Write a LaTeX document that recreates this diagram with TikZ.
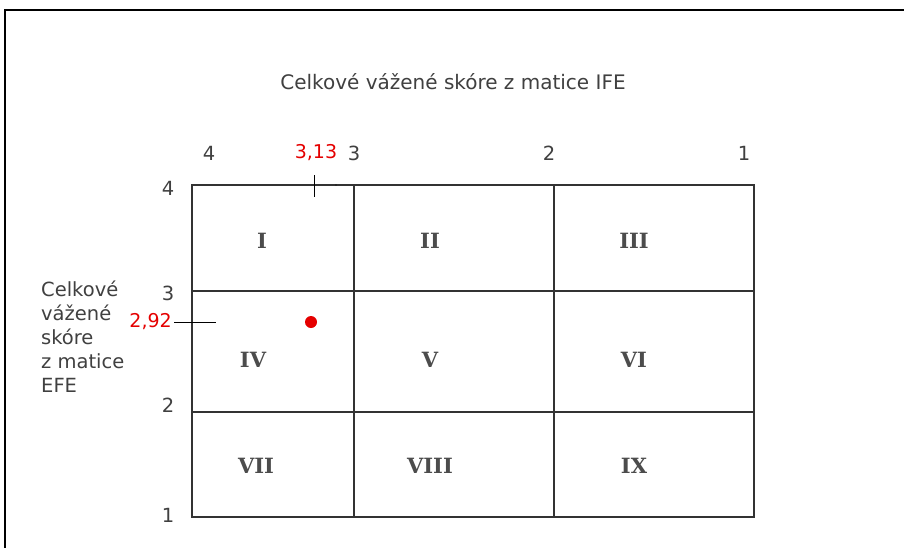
\documentclass[tikz,border=0pt]{standalone}
\usepackage{fontspec}
\setmainfont{DejaVu Sans}
\newfontfamily\romanfont{DejaVu Serif}
\begin{document}
\begin{tikzpicture}[x=1pt,y=-1pt,
  lbl/.style={font=\fontsize{19.5}{24}\selectfont, text=black!75, inner sep=0pt},
  redlbl/.style={font=\fontsize{19}{24}\selectfont, text=red!90!black, inner sep=0pt},
  quad/.style={font=\romanfont\bfseries\fontsize{21}{24}\selectfont, text=black!70, inner sep=0pt},
  gridline/.style={line width=1.2pt, draw=black!80},
  tick/.style={line width=1pt, draw=black}]
\useasboundingbox (0,0) rectangle (904,547);
\fill[white] (0,0) rectangle (904,547);
% outer frame
\draw[line width=1.6pt] (5,560) -- (5,10) -- (910,10);
% title
\node[lbl, font=\fontsize{20}{24}\selectfont] (title) at (453,82) {Celkové vážené skóre z matice IFE};
% grid
\draw[gridline] (192,185) rectangle (754,517);
\draw[gridline] (354,185) -- (354,517);
\draw[gridline] (554,185) -- (554,517);
\draw[gridline] (192,291) -- (754,291);
\draw[gridline] (192,412) -- (754,412);
% top scale
\node[lbl] (t4) at (209,153) {4};
\node[lbl] (t3) at (354,153) {3};
\node[lbl] (t2) at (549,153) {2};
\node[lbl] (t1) at (744,153) {1};
\node[redlbl] (ifeval) at (316,153) {3,13};
\coordinate (ifetop) at (314,175);
\coordinate (ifebot) at (314,197);
\draw[tick] (ifetop) -- (ifebot);
\fill (336,185) circle (0.7);
% left scale
\node[lbl] (l4) at (168,188) {4};
\node[lbl] (l3) at (168,293) {3};
\node[lbl] (l2) at (168,405) {2};
\node[lbl] (l1) at (168,515) {1};
\node[redlbl, anchor=east] (efeval) at (172,322) {2,92};
\coordinate (efeend) at (216,322);
\draw[tick] (efeval.east) ++(2,0) -- (efeend);
% left axis title
\node[lbl, anchor=north west, align=left]
  (efetitle) at (41,281) {Celkové\\vážené\\skóre\\z matice\\EFE};
% position
\fill[red!90!black] (311,322) circle (6);
% quadrants
\node[quad] (q1) at (262,241) {I};
\node[quad] (q2) at (430,241) {II};
\node[quad] (q3) at (634,241) {III};
\node[quad] (q4) at (253,360) {IV};
\node[quad] (q5) at (430,360) {V};
\node[quad] (q6) at (634,360) {VI};
\node[quad] (q7) at (256,466) {VII};
\node[quad] (q8) at (430,466) {VIII};
\node[quad] (q9) at (634,466) {IX};
\end{tikzpicture}
\end{document}
